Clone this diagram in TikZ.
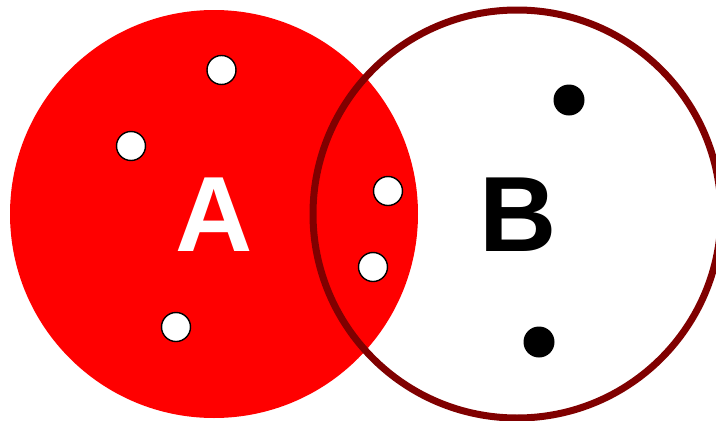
\documentclass[tikz,border=0pt]{standalone}
\usepackage{fontspec}
\setmainfont{Liberation Sans}
\begin{document}
\begin{tikzpicture}[x=1pt,y=-1pt,
  setA/.style={fill={rgb,255:red,255;green,0;blue,0}, draw=none},
  setB/.style={draw={rgb,255:red,128;green,0;blue,0}, line width=7pt, fill=none},
  wdot/.style={circle, fill=white, draw=black, line width=1.4pt, minimum size=29pt, inner sep=0pt},
  bdot/.style={circle, fill=black, draw=none, minimum size=31pt, inner sep=0pt},
  lbl/.style={font=\fontsize{107}{107}\selectfont\bfseries, inner sep=0pt}]
\useasboundingbox (0,0) rectangle (716,421);
\fill[setA] (214,214) circle (204);
\draw[setB] (517,214) circle (204);
\node[lbl, text=white] (A) at (214,215) {A};
\node[lbl, text=black] (B) at (518,215) {B};
\node[wdot] (a1) at (221.5,70) {};
\node[wdot] (a2) at (131,146) {};
\node[wdot] (a3) at (388,191) {};
\node[wdot] (a4) at (373,267) {};
\node[wdot] (a5) at (176,327) {};
\node[bdot] (b1) at (569,100) {};
\node[bdot] (b2) at (539,342) {};
\end{tikzpicture}
\end{document}
